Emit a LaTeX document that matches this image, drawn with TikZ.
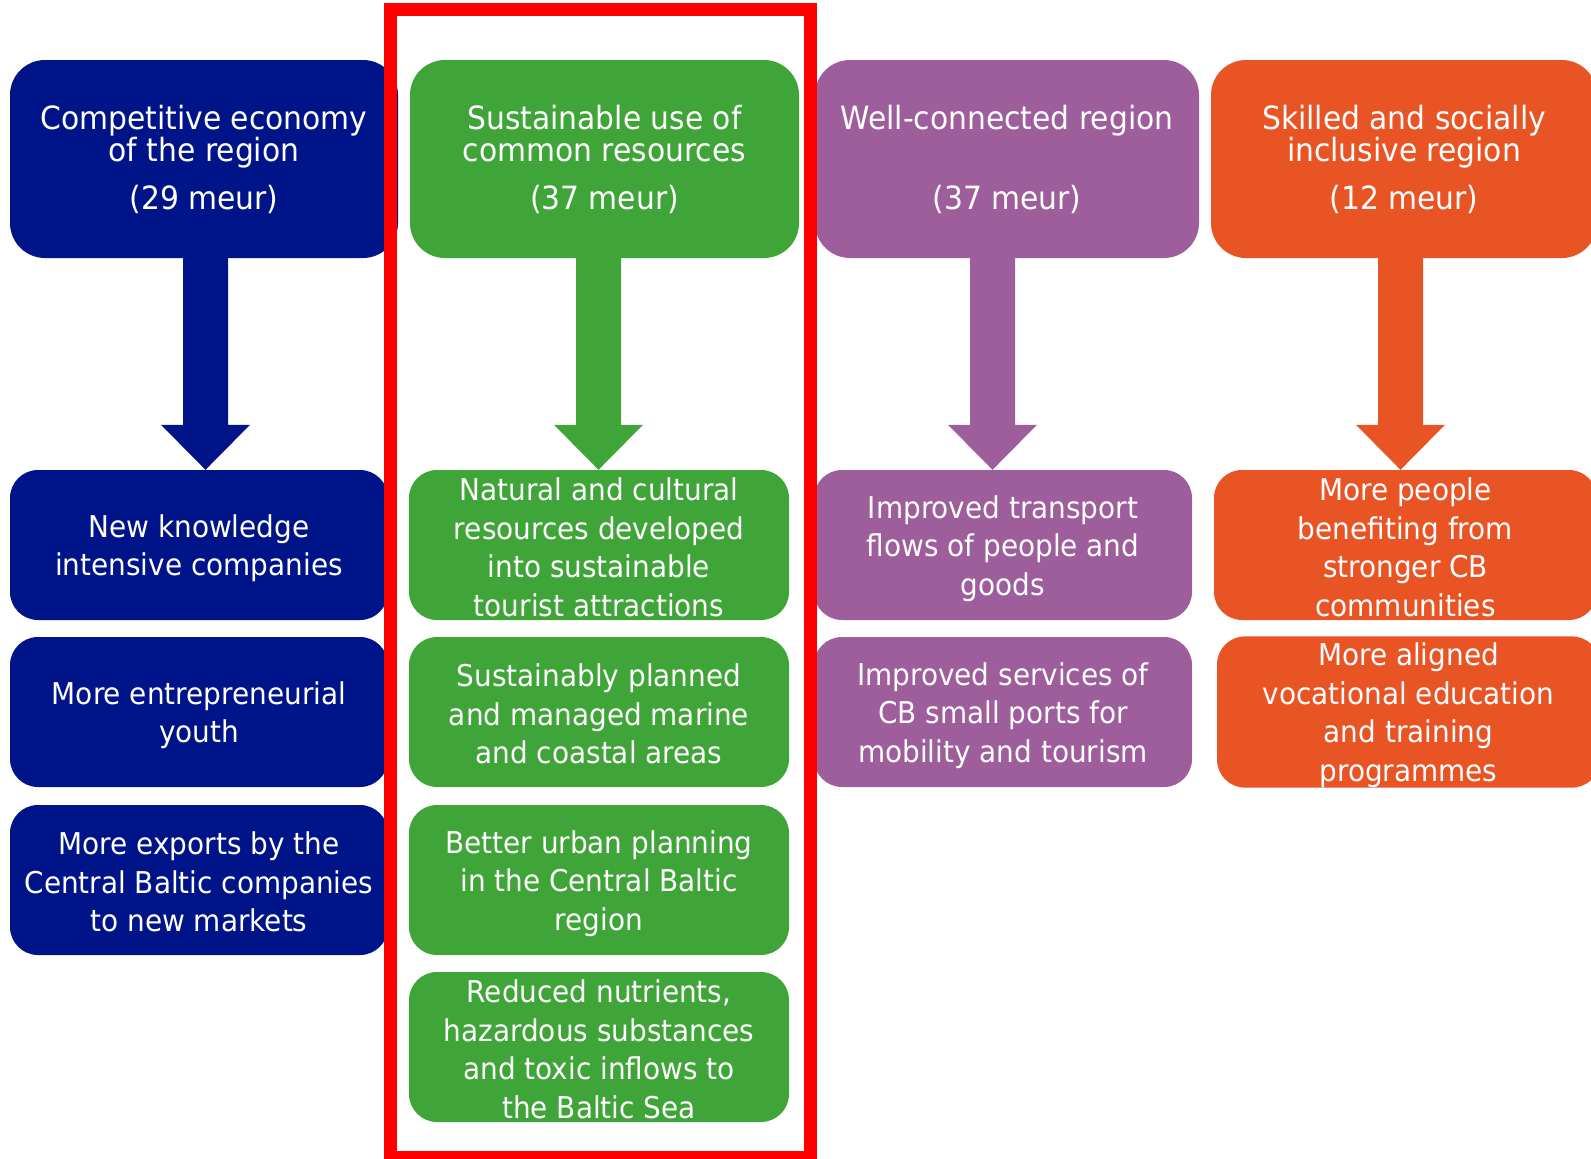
\documentclass[tikz,border=0pt]{standalone}
\usepackage{fontspec}
\setmainfont{DejaVu Sans}[FakeStretch=0.93]
\usetikzlibrary{calc}
\definecolor{cblue}{RGB}{0,20,137}
\definecolor{cgreen}{RGB}{64,165,56}
\definecolor{cpurple}{RGB}{158,94,155}
\definecolor{corange}{RGB}{233,84,37}
\definecolor{cred}{RGB}{255,0,0}
\newcommand\tstrutA{\vrule height 30pt depth 9pt width 0pt}
\newcommand\tstrutB{\vrule height 29.5pt depth 3pt width 0pt}
\newcommand\nolsl{\lineskiplimit -100pt\relax}
\newcommand\fatarrow[4]{%
  \coordinate (ta) at (#2,0);
  \fill[#1] ($(ta |- #3.south)+(-22.5,-1)$) -- ($(ta |- #3.south)+(22.5,-1)$)
    -- ($(ta |- #4.north)+(22.5,-45)$) -- ($(ta |- #4.north)+(44.5,-45)$)
    -- (ta |- #4.north) -- ($(ta |- #4.north)+(-44.5,-45)$)
    -- ($(ta |- #4.north)+(-22.5,-45)$) -- cycle;}
\begin{document}
\begin{tikzpicture}[x=1pt,y=-1pt,
  topbox/.style={fill=#1, rounded corners=35pt, minimum height=198pt, inner sep=0pt,
    text=white, align=center, font=\fontsize{32}{32.5}\selectfont\nolsl},
  lowbox/.style={fill=#1, rounded corners=28pt, minimum height=150pt, inner sep=0pt,
    text=white, align=center, font=\fontsize{30}{38.5}\selectfont\nolsl}]
\useasboundingbox (0,0) rectangle (1591,1159);
\clip (0,0) rectangle (1591,1159);

% top boxes
\node[topbox=cblue, minimum width=388pt] (tB) at (204,159)
  {\tstrutA Competitive economy\\of the region\\[15.5pt](29 meur)\tstrutA};
\node[topbox=cgreen, minimum width=389pt] (tG) at (604.5,159)
  {\tstrutA Sustainable use of\\common resources\\[15.5pt](37 meur)\tstrutA};
\node[topbox=cpurple, minimum width=384pt] (tP) at (1007,159)
  {\tstrutA Well-connected region\\ \\[15.5pt](37 meur)\tstrutA};
\node[topbox=corange, minimum width=386pt] (tO) at (1404,159)
  {\tstrutA Skilled and socially\\inclusive region\\[15.5pt](12 meur)\tstrutA};

% blue column
\node[lowbox=cblue, minimum width=378pt] (b1) at (199,545)
  {\tstrutB New knowledge\\intensive companies\tstrutB};
\node[lowbox=cblue, minimum width=378pt] (b2) at (199,712)
  {\tstrutB More entrepreneurial\\youth\tstrutB};
\node[lowbox=cblue, minimum width=378pt] (b3) at (199,880)
  {\tstrutB More exports by the\\Central Baltic companies\\to new markets\tstrutB};

% green column
\node[lowbox=cgreen, minimum width=380pt] (g1) at (599,545)
  {\tstrutB Natural and cultural\\resources developed\\into sustainable\\tourist attractions\tstrutB};
\node[lowbox=cgreen, minimum width=380pt] (g2) at (599,712)
  {\tstrutB Sustainably planned\\and managed marine\\and coastal areas\tstrutB};
\node[lowbox=cgreen, minimum width=380pt] (g3) at (599,880)
  {\tstrutB Better urban planning\\in the Central Baltic\\region\tstrutB};
\node[lowbox=cgreen, minimum width=380pt] (g4) at (599,1047)
  {\tstrutB Reduced nutrients,\\hazardous substances\\and toxic inflows to\\the Baltic Sea\tstrutB};

% purple column
\node[lowbox=cpurple, minimum width=378pt] (p1) at (1003,545)
  {\tstrutB Improved transport\\flows of people and\\goods\tstrutB};
\node[lowbox=cpurple, minimum width=378pt] (p2) at (1003,712)
  {\tstrutB Improved services of\\CB small ports for\\mobility and tourism\tstrutB};

% orange column
\node[lowbox=corange, minimum width=383pt] (o1) at (1405.5,545)
  {\tstrutB More people\\benefiting from\\stronger CB\\communities\tstrutB};
\node[lowbox=corange, minimum width=383pt] (o2) at (1408.5,712)
  {\tstrutB More aligned\\vocational education\\and training\\programmes\tstrutB};

% arrows
\fatarrow{cblue}{205.5}{tB}{b1}
\fatarrow{cgreen}{598.5}{tG}{g1}
\fatarrow{cpurple}{992.5}{tP}{p1}
\fatarrow{corange}{1400.5}{tO}{o1}

% highlight frame
\draw[cred, line width=13pt] (390.5,9.5) rectangle (810,1157);
\end{tikzpicture}
\end{document}
